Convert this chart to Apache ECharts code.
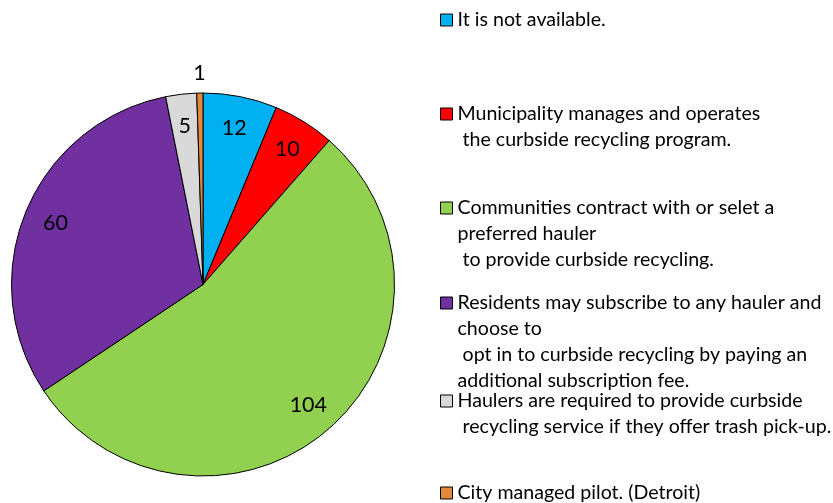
<!DOCTYPE html>
<html>
<head>
    <meta charset="utf-8">
    <title>Curbside recycling</title>
    <script src="https://cdn.jsdelivr.net/npm/echarts@6/dist/echarts.min.js"></script>
    <style>
        html, body { margin: 0; padding: 0; background: #fff; }
        #chart { width: 833px; height: 503px; }
    </style>
</head>
<body>
<div id="chart"></div>
<script>
    // categories (legend text, line breaks as in the original)
    var categories = [
        'It is not available.',
        'Municipality manages and operates\n the curbside recycling program.',
        'Communities contract with or selet a\npreferred hauler\n to provide curbside recycling.',
        'Residents may subscribe to any hauler and\nchoose to\n opt in to curbside recycling by paying an\nadditional subscription fee.',
        'Haulers are required to provide curbside\n recycling service if they offer trash pick-up.',
        'City managed pilot. (Detroit)'
    ];
    var counts = [12, 10, 104, 60, 5, 1];
    var colors = ['#00B0F0', '#FF0000', '#92D050', '#7030A0', '#D9D9D9', '#E3893C'];

    var FONT = 'Lato';
    var LH = 26;
    var cx = 203, cy = 284.5, R = 191.5;
    // first line centre of each legend entry
    var legendY = [20, 114, 208, 303, 401, 493];

    var mainData = [], innerLabels = [], outerLabels = [];
    for (var i = 0; i < categories.length; i++) {
        mainData.push({ name: categories[i], value: counts[i], itemStyle: { color: colors[i] } });
        var small = counts[i] < 3;
        innerLabels.push({ name: categories[i], value: counts[i], label: { show: !small } });
        outerLabels.push({ name: categories[i], value: counts[i], label: { show: small } });
    }

    // legend icon sits on the first line: pad the text with blank lines on top
    function legendText(name) {
        var n = name.split('\n').length;
        var pad = '';
        for (var j = 1; j < n; j++) pad += ' \n';
        return pad + name;
    }

    var legends = [];
    for (var k = 0; k < categories.length; k++) {
        var n = categories[k].split('\n').length;
        legends.push({
            data: [categories[k]],
            orient: 'vertical',
            left: 440,
            top: legendY[k] - (2 * n - 1) * LH / 2,
            padding: 0,
            icon: 'rect',
            itemWidth: 12,
            itemHeight: 12,
            selectedMode: false,
            formatter: legendText,
            itemStyle: { borderColor: '#000', borderWidth: 1 },
            textStyle: { fontFamily: FONT, fontSize: 19.6, color: '#000', lineHeight: LH }
        });
    }

    var labelStyle = { position: 'inside', color: '#000', fontFamily: FONT, fontSize: 21.5,
        formatter: '{c}' };

    var chart = echarts.init(document.getElementById('chart'));
    chart.setOption({
        animation: false,
        legend: legends,
        series: [
            {
                type: 'pie',
                center: [cx, cy],
                radius: [0, R],
                startAngle: 90,
                clockwise: true,
                label: { show: false },
                labelLine: { show: false },
                itemStyle: { borderColor: '#000', borderWidth: 1 },
                emphasis: { disabled: true },
                data: mainData
            },
            {
                // label ring, transparent
                type: 'pie',
                silent: true,
                center: [cx, cy],
                radius: [122, R],
                startAngle: 90,
                itemStyle: { color: 'rgba(0,0,0,0)', borderWidth: 0 },
                label: labelStyle,
                labelLine: { show: false },
                emphasis: { disabled: true },
                data: innerLabels
            },
            {
                type: 'pie',
                silent: true,
                center: [cx, cy],
                radius: [196, 221],
                startAngle: 90,
                itemStyle: { color: 'rgba(0,0,0,0)', borderWidth: 0 },
                label: labelStyle,
                labelLine: { show: false },
                emphasis: { disabled: true },
                data: outerLabels
            }
        ]
    });
</script>
</body>
</html>
